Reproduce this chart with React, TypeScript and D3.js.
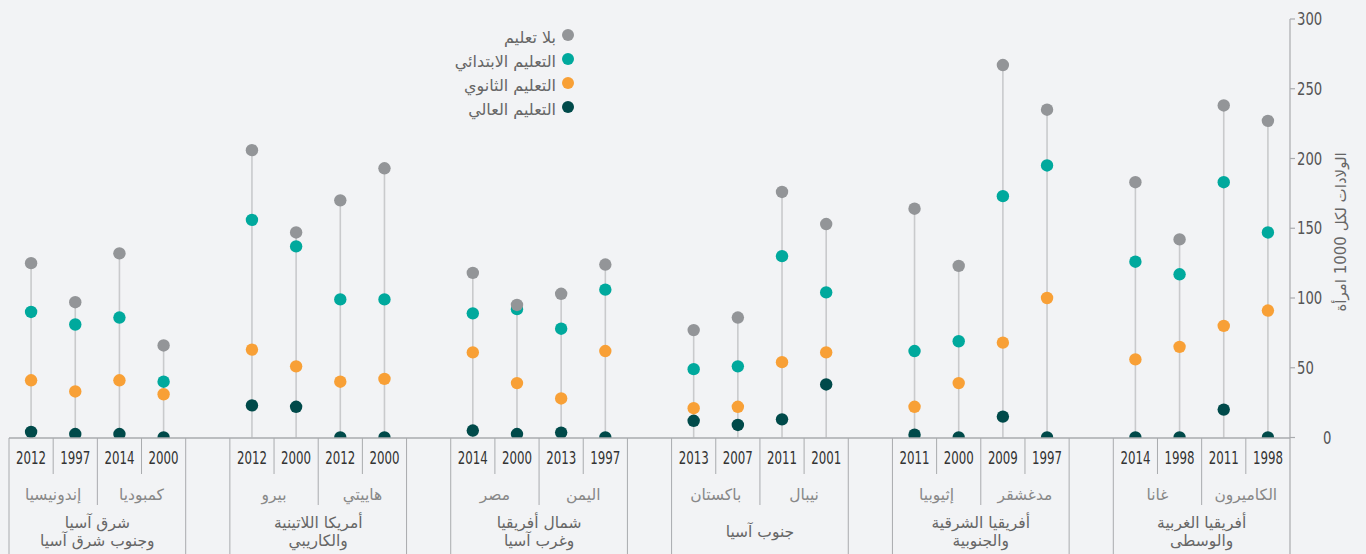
import React, { useEffect } from "react";
import * as d3 from "d3";

const regionNames: string[][] = [
  ["شرق آسيا", "وجنوب شرق آسيا"],
  ["أمريكا اللاتينية", "والكاريبي"],
  ["شمال أفريقيا", "وغرب آسيا"],
  ["جنوب آسيا"],
  ["أفريقيا الشرقية", "والجنوبية"],
  ["أفريقيا الغربية", "والوسطى"],
];
const countries = ["إندونيسيا", "كمبوديا", "بيرو", "هاييتي", "مصر", "اليمن", "باكستان", "نيبال", "إثيوبيا", "مدغشقر", "غانا", "الكاميرون"];
const years = ["2012", "1997", "2014", "2000", "2012", "2000", "2012", "2000", "2014", "2000", "2013", "1997", "2013", "2007", "2011", "2001", "2011", "2000", "2009", "1997", "2014", "1998", "2011", "1998"];
const noEducation = [125, 97, 132, 66, 206, 147, 170, 193, 118, 95, 103, 124, 77, 86, 176, 153, 164, 123, 267, 235, 183, 142, 238, 227];
const primary = [90, 81, 86, 40, 156, 137, 99, 99, 89, 92, 78, 106, 49, 51, 130, 104, 62, 69, 173, 195, 126, 117, 183, 147];
const secondary = [41, 33, 41, 31, 63, 51, 40, 42, 61, 39, 28, 62, 21, 22, 54, 61, 22, 39, 68, 100, 56, 65, 80, 91];
const higher = [4, 2.5, 2.5, 0, 23, 22, 0, 0, 5, 2.5, 3.5, 0, 12, 9, 13, 38, 2, 0, 15, 0, 0, 0, 20, 0];
const seriesNames = ["بلا تعليم", "التعليم الابتدائي", "التعليم الثانوي", "التعليم العالي"];
const seriesColors = ["#939598", "#00a99d", "#f8a036", "#004a4a"];
const yTicks = [0, 50, 100, 150, 200, 250, 300];
const yTitle = "الولادات لكل 1000 امرأة";

const W = 1366, H = 554;
const left = 9, right = 1290, baseY = 438, topY = 19;
const nSlots = 29;
const AR = "'DejaVu Sans', sans-serif";
const NUM = "'DejaVu Sans Condensed', 'DejaVu Sans', sans-serif";

export default function App() {
  useEffect(() => {
    document.body.style.margin = "0";
    document.body.style.background = "#f2f3f5";
  }, []);
  const slots = d3.range(nSlots).map(String);
  const x = d3.scaleBand<string>().domain(slots).range([left, right]).padding(0);
  const y = d3.scaleLinear().domain([0, 300]).range([437.5, topY]);
  const bw = x.bandwidth();
  const slotOf = (i: number) => Math.floor(i / 4) * 5 + (i % 4);
  const cx = (i: number) => (x(String(slotOf(i))) as number) + bw / 2;
  const series = [noEducation, primary, secondary, higher];
  const lineCol = "#a9abae";

  const sepLines: JSX.Element[] = [];
  regionNames.forEach((_, g) => {
    const x0 = x(String(g * 5)) as number;
    sepLines.push(<line key={"g0" + g} x1={x0} x2={x0} y1={baseY} y2={H} stroke={lineCol} strokeWidth={1} />);
    if (g < regionNames.length - 1) {
      const x1 = x(String(g * 5 + 4)) as number;
      sepLines.push(<line key={"g1" + g} x1={x1} x2={x1} y1={baseY} y2={H} stroke={lineCol} strokeWidth={1} />);
    }
    const xc = x(String(g * 5 + 2)) as number;
    sepLines.push(<line key={"c" + g} x1={xc} x2={xc} y1={baseY} y2={505} stroke={lineCol} strokeWidth={1} />);
    [1, 3].forEach((k) => {
      const xs = x(String(g * 5 + k)) as number;
      sepLines.push(<line key={"y" + g + k} x1={xs} x2={xs} y1={baseY} y2={474} stroke={lineCol} strokeWidth={1} />);
    });
  });

  return (
    <svg width={W} height={H} style={{ display: "block", background: "#f2f3f5" }}>
      <defs>
        <clipPath id="plotclip">
          <rect x={0} y={0} width={W} height={baseY} />
        </clipPath>
      </defs>
      <g clipPath="url(#plotclip)">
        {years.map((_, i) => (
          <line key={"st" + i} x1={cx(i)} x2={cx(i)} y1={y(0)} y2={y(noEducation[i])} stroke="#c9cacc" strokeWidth={1.6} />
        ))}
        {[3, 2, 1, 0].map((s) =>
          series[s].map((v, i) => (
            <circle key={"p" + s + "-" + i} cx={cx(i)} cy={y(v)} r={6.2} fill={seriesColors[s]} />
          ))
        )}
      </g>
      <line x1={left} x2={right} y1={baseY} y2={baseY} stroke={lineCol} strokeWidth={1.5} />
      {sepLines}
      <line x1={right} x2={right} y1={topY} y2={H} stroke={lineCol} strokeWidth={1.2} />
      {yTicks.map((t) => {
        const s = String(t);
        return (
          <g key={"t" + t}>
            <line x1={right} x2={right + 5} y1={y(t)} y2={y(t)} stroke={lineCol} strokeWidth={1.2} />
            <text x={t === 0 ? 1323 : 1297} y={y(t)} dominantBaseline="central" fontFamily={NUM} fontSize={17} fill="#555"
              textLength={s.length * 8.4} lengthAdjust="spacingAndGlyphs">
              {s}
            </text>
          </g>
        );
      })}
      <text transform={`translate(1341,${232}) rotate(-90)`} textAnchor="middle" dominantBaseline="central" fontFamily={AR} fontSize={15} fill="#666">
        {yTitle}
      </text>
      {years.map((yr, i) => (
        <text key={"yr" + i} x={cx(i)} y={458} textAnchor="middle" dominantBaseline="central" fontFamily={NUM} fontSize={17} fill="#333"
          textLength={30} lengthAdjust="spacingAndGlyphs">
          {yr}
        </text>
      ))}
      {countries.map((c, k) => {
        const i0 = k * 2;
        const xm = (cx(i0) + cx(i0 + 1)) / 2;
        return (
          <text key={"c" + k} x={xm} y={495} textAnchor="middle" dominantBaseline="central" fontFamily={AR} fontSize={15.5} fill="#888">
            {c}
          </text>
        );
      })}
      {regionNames.map((lines, g) => {
        const xm = (cx(g * 4) + cx(g * 4 + 3)) / 2;
        const ys = lines.length === 1 ? [532] : [523, 541];
        return lines.map((ln, j) => (
          <text key={"r" + g + j} x={xm} y={ys[j]} textAnchor="middle" dominantBaseline="central" fontFamily={AR} fontSize={15.5} fill="#666">
            {ln}
          </text>
        ));
      })}
      {seriesNames.map((nm, s) => (
        <g key={"lg" + s}>
          <circle cx={568} cy={35 + s * 24} r={6} fill={seriesColors[s]} />
          <text x={556} y={37 + s * 24} textAnchor="end" dominantBaseline="central" fontFamily={AR} fontSize={16} fill="#666">
            {nm}
          </text>
        </g>
      ))}
    </svg>
  );
}
